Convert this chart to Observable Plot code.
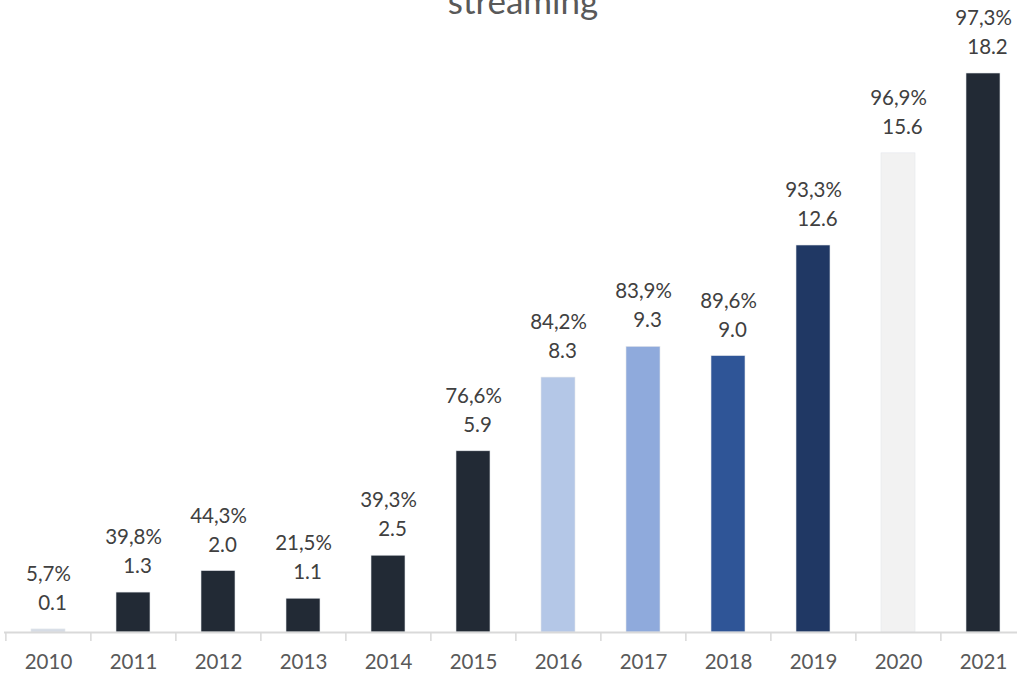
<!DOCTYPE html>
<html>
<head>
<meta charset="utf-8">
<script src="https://cdn.jsdelivr.net/npm/d3@7"></script>
<script src="https://cdn.jsdelivr.net/npm/@observablehq/plot@0.6"></script>
<style>
  html, body { margin: 0; padding: 0; background: #fff; overflow: hidden; }
  #wrap { position: relative; width: 1017px; height: 676px; }
  #title { position: absolute; left: 30px; width: 986px; top: -20px; text-align: center;
           font-family: Lato, "Open Sans", sans-serif; font-size: 35px; color: #595959; line-height: 40px; }
  #chart { position: absolute; left: 0; top: 0; }
</style>
</head>
<body>
<div id="wrap">
  <div id="chart"></div>
  <div id="title">streaming</div>
</div>
<script>
const years = ["2010","2011","2012","2013","2014","2015","2016","2017","2018","2019","2020","2021"];
const values = [0.1, 1.3, 2.0, 1.1, 2.5, 5.9, 8.3, 9.3, 9.0, 12.6, 15.6, 18.2];
const shares = ["5,7%","39,8%","44,3%","21,5%","39,3%","76,6%","84,2%","83,9%","89,6%","93,3%","96,9%","97,3%"];
const colors = ["#d6dce5","#222a35","#222a35","#222a35","#222a35","#222a35","#b4c7e7","#8faadc","#2f5597","#203864","#f2f2f2","#222a35"];

const data = years.map((y, i) => ({year: y, value: values[i], share: shares[i], color: colors[i]}));

const chart = Plot.plot({
  width: 1017,
  height: 676,
  marginTop: 73,
  marginBottom: 44,
  marginLeft: 4,
  marginRight: 0,
  style: {fontFamily: "Lato, 'Open Sans', sans-serif", background: "#fff", overflow: "visible"},
  x: {domain: years, range: [4, 1027], paddingInner: 0.6, paddingOuter: 0.3, label: null},
  y: {domain: [0, 18.2], axis: null},
  marks: [
    Plot.barY(data, {x: "year", y: "value", fill: "color", stroke: "#e4e7ec", strokeWidth: 0.6}),
    Plot.ruleY([0], {stroke: "#d9d9d9", strokeWidth: 2}),
    Plot.ruleX(data, {x: "year", y1: 0, y2: 0, dx: -85.25 / 2, insetBottom: -9, stroke: "#d9d9d9", strokeWidth: 1.5}),
    Plot.text(data, {x: "year", y: "value", text: d => d.value.toFixed(1), dy: -26, dx: 4, fontSize: 20.5, fill: "#404040"}),
    Plot.text(data, {x: "year", y: "value", text: "share", dy: -55, fontSize: 20.5, fill: "#404040"}),
    Plot.axisX({tickSize: 0, tickPadding: 22, fontSize: 20.5, color: "#595959", label: null})
  ]
});
document.getElementById("chart").appendChild(chart);
</script>
</body>
</html>
